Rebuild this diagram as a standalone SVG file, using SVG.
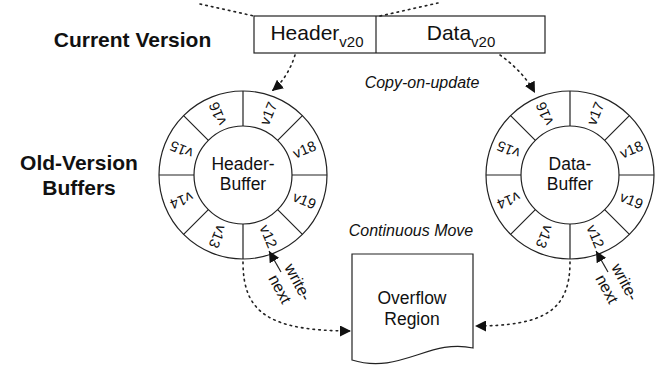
<svg xmlns="http://www.w3.org/2000/svg" xmlns:xlink="http://www.w3.org/1999/xlink" width="658" height="372" viewBox="0 0 658 372">
<style>
text{font-family:"Liberation Sans",Arial,Helvetica,sans-serif;fill:#111}
.title{font-size:21px;font-weight:bold}
.cell{font-size:21px}
.sub{font-size:15px}
.lbl{font-size:14.5px}
.ctr{font-size:17.5px}
.it{font-size:16px;font-style:italic}
.wn{font-size:16px}
.ln{fill:none;stroke:#222;stroke-width:1.2}
.dot{fill:none;stroke:#222;stroke-width:1.6;stroke-dasharray:1.6 4.2;stroke-linecap:round}
</style>
<defs>
<marker id="ah" viewBox="0 0 10 10" refX="10" refY="5" markerWidth="11" markerHeight="11" markerUnits="userSpaceOnUse" orient="auto">
<path d="M0,0 L10,5 L0,10 Z" fill="#111"/>
</marker>
<g id="ringshape">
<circle r="84" class="ln"/>
<circle r="49" class="ln"/>
<path class="ln" d="M49,0H84M-49,0H-84M0,49V84M0,-49V-84M34.65,34.65L59.4,59.4M-34.65,34.65L-59.4,59.4M34.65,-34.65L59.4,-59.4M-34.65,-34.65L-59.4,-59.4"/>
</g>
</defs>
<rect width="658" height="372" fill="#fff"/>

<g id="labels">
<text class="title" x="132.5" y="47" text-anchor="middle">Current Version</text>
<text class="title" x="79" y="169.5" text-anchor="middle">Old-Version</text>
<text class="title" x="79" y="195" text-anchor="middle">Buffers</text>
<text class="it" x="422" y="88" text-anchor="middle">Copy-on-update</text>
<text class="it" x="411" y="236" text-anchor="middle">Continuous Move</text>
</g>

<g id="current">
<rect class="ln" x="254" y="16" width="291" height="37"/>
<line class="ln" x1="376" y1="16" x2="376" y2="53"/>
<text class="cell" x="317" y="39.5" text-anchor="middle">Header<tspan class="sub" dy="7">v20</tspan></text>
<text class="cell" x="461" y="39.5" text-anchor="middle">Data<tspan class="sub" dy="7">v20</tspan></text>
</g>

<g id="header-buffer" transform="translate(243,175)">
<use xlink:href="#ringshape"/>
<text class="ctr" x="0" y="-5" text-anchor="middle">Header-</text>
<text class="ctr" x="0" y="15" text-anchor="middle">Buffer</text>
<g class="lbl" text-anchor="middle" dominant-baseline="central">
<text class="lbl" transform="rotate(-67.5) translate(66.5 0)">v17</text>
<text class="lbl" transform="rotate(-22.5) translate(66.5 0)">v18</text>
<text class="lbl" transform="rotate(22.5) translate(66.5 0)">v19</text>
<text class="lbl" transform="rotate(67.5) translate(66.5 0)">v12</text>
<text class="lbl" transform="rotate(112.5) translate(66.5 0)">v13</text>
<text class="lbl" transform="rotate(157.5) translate(66.5 0)">v14</text>
<text class="lbl" transform="rotate(-157.5) translate(66.5 0)">v15</text>
<text class="lbl" transform="rotate(-112.5) translate(66.5 0)">v16</text>
</g>
</g>

<g id="data-buffer" transform="translate(570,175)">
<use xlink:href="#ringshape"/>
<text class="ctr" x="0" y="-5" text-anchor="middle">Data-</text>
<text class="ctr" x="0" y="15" text-anchor="middle">Buffer</text>
<g class="lbl" text-anchor="middle" dominant-baseline="central">
<text class="lbl" transform="rotate(-67.5) translate(66.5 0)">v17</text>
<text class="lbl" transform="rotate(-22.5) translate(66.5 0)">v18</text>
<text class="lbl" transform="rotate(22.5) translate(66.5 0)">v19</text>
<text class="lbl" transform="rotate(67.5) translate(66.5 0)">v12</text>
<text class="lbl" transform="rotate(112.5) translate(66.5 0)">v13</text>
<text class="lbl" transform="rotate(157.5) translate(66.5 0)">v14</text>
<text class="lbl" transform="rotate(-157.5) translate(66.5 0)">v15</text>
<text class="lbl" transform="rotate(-112.5) translate(66.5 0)">v16</text>
</g>
</g>

<g id="overflow">
<path class="ln" d="M352,254 L473,254 L473,348 C430,338 400,375 352,360 Z"/>
<text class="ctr" x="412" y="304" text-anchor="middle">Overflow</text>
<text class="ctr" x="412" y="325" text-anchor="middle">Region</text>
</g>

<g id="connectors">
<line class="dot" x1="200" y1="4" x2="254" y2="16"/>
<line class="dot" x1="380" y1="16" x2="438" y2="3"/>
<path class="dot" d="M295,55 C291,68 284,81 272,91" marker-end="url(#ah)"/>
<path class="dot" d="M500,55 C514,65 527,78 535,93" marker-end="url(#ah)"/>
<path class="dot" d="M243,262 C243,312 268,331 351,331" marker-end="url(#ah)"/>
<path class="dot" d="M570,262 C570,310 545,326 475,326" marker-end="url(#ah)"/>
<line class="ln" x1="281" y1="272" x2="269" y2="251" marker-end="url(#ah)"/>
<line class="ln" x1="608" y1="272" x2="596" y2="251" marker-end="url(#ah)"/>
<text class="wn" transform="translate(298,282) rotate(62)" text-anchor="middle" dominant-baseline="central">write-</text>
<text class="wn" transform="translate(280,289) rotate(62)" text-anchor="middle" dominant-baseline="central">next</text>
<text class="wn" transform="translate(625,282) rotate(62)" text-anchor="middle" dominant-baseline="central">write-</text>
<text class="wn" transform="translate(607,289) rotate(62)" text-anchor="middle" dominant-baseline="central">next</text>
</g>
</svg>
